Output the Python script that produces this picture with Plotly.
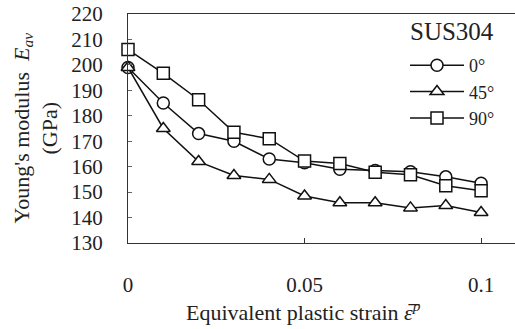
import plotly.graph_objects as go

strain = [0, 0.01, 0.02, 0.03, 0.04, 0.05, 0.06, 0.07, 0.08, 0.09, 0.1]
e_0 = [199, 185, 173, 170, 163, 161.5, 159, 158.5, 158, 156, 153.5]
e_45 = [199, 175, 162, 156.5, 155, 148.5, 145.8, 145.8, 143.8, 144.7, 142]
e_90 = [206, 196.7, 186.3, 173.5, 171, 162.2, 161.2, 157.8, 156.8, 152.5, 150.5]
series_names = ["0°", "45°", "90°"]
symbols = ["circle", "triangle-up", "square"]
x_ticks = [0, 0.05, 0.1]
x_tick_text = ["0", "0.05", "0.1"]
material = "SUS304"

FONT = "Liberation Serif"
INK = "#222222"
L, T, B = 128, 14, 86
PW, PH = 515 - L, 329 - T - B

fig = go.Figure()
for name, ys, sym in zip(series_names, [e_0, e_45, e_90], symbols):
    fig.add_trace(go.Scatter(
        x=strain, y=ys, name=name, mode="lines+markers",
        line=dict(color="#111111", width=1.5),
        marker=dict(symbol=sym, size=12, color="white",
                    line=dict(color="#111111", width=1.5)),
        cliponaxis=False,
    ))

fig.update_layout(
    width=515, height=329,
    margin=dict(l=L, r=0, t=T, b=B, autoexpand=False),
    paper_bgcolor="white", plot_bgcolor="white",
    font=dict(family=FONT, size=20, color=INK),
    showlegend=True,
    legend=dict(
        xref="paper", yref="paper",
        x=(405 - L) / PW, y=1 - (47 - T) / PH, xanchor="left", yanchor="top",
        bgcolor="rgba(0,0,0,0)", borderwidth=0,
        font=dict(size=18, family=FONT, color=INK),
        itemwidth=54,
        tracegroupgap=0,
    ),
    xaxis=dict(
        range=[0, 0.1096], tickvals=x_ticks, ticktext=x_tick_text,
        ticks="inside", ticklen=5, tickcolor="#333",
        showline=True, linecolor="#333", linewidth=1.3, mirror=True,
        showgrid=False, zeroline=False,
        tickfont=dict(size=21, family=FONT, color=INK),
        ticklabelstandoff=23,
    ),
    yaxis=dict(
        range=[130, 220], dtick=10,
        ticks="inside", ticklen=4, tickcolor="#666",
        showline=True, linecolor="#333", linewidth=1.3,
        showgrid=False, zeroline=False,
        tickfont=dict(size=21, family=FONT, color=INK),
        ticklabelstandoff=20,
    ),
    annotations=[
        dict(
            text=material,
            xref="paper", yref="paper", x=(408 - L) / PW, y=1 - (32 - T) / PH,
            xanchor="left", yanchor="middle",
            showarrow=False, font=dict(size=25, family=FONT, color=INK),
        ),
        dict(
            text="Young's modulus  <i>E</i><sub><i>av</i></sub><br>(GPa)",
            xref="paper", yref="paper", x=(35 - L) / PW, y=0.5,
            xanchor="center", yanchor="middle", textangle=-90,
            showarrow=False, font=dict(size=22, family=FONT, color=INK),
        ),
        dict(
            text="Equivalent plastic strain <i>\u03b5\u0305</i><sup><i>p</i></sup>",
            xref="paper", yref="paper", x=(303 - L) / PW, y=-(311 - (T + PH)) / PH,
            xanchor="center", yanchor="middle",
            showarrow=False, font=dict(size=22, family=FONT, color=INK),
        ),
    ],
)

fig.write_html("out.html")
